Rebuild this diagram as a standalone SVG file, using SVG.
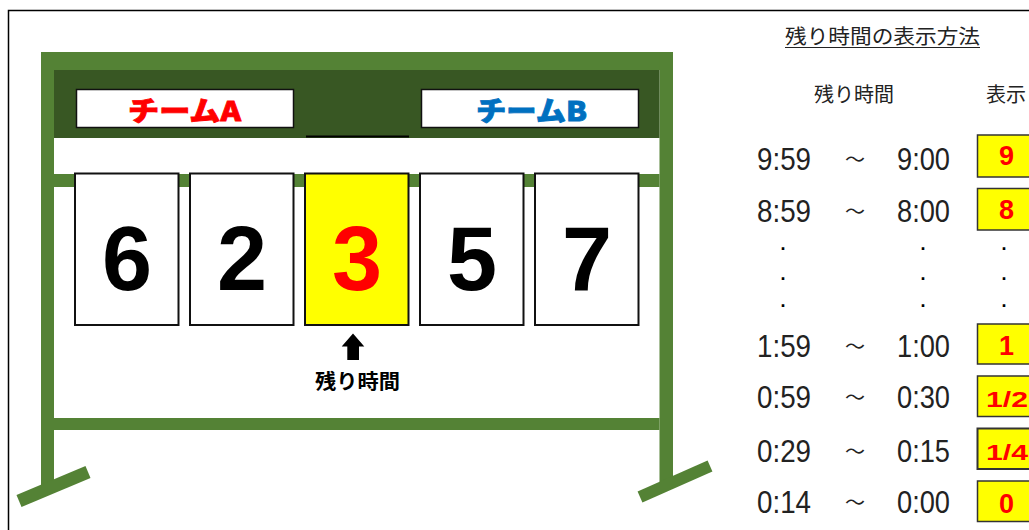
<svg xmlns="http://www.w3.org/2000/svg" width="1029" height="530" viewBox="0 0 1029 530">
<style>
.g{fill:#548235}
.dg{fill:#385723}
.card{fill:#fff;stroke:#111;stroke-width:2}
.big{font-family:"Liberation Sans",Arial,sans-serif;font-weight:bold;font-size:90px;text-anchor:middle;fill:#000}
.jp{font-family:"Noto Sans CJK JP",sans-serif}
.time{font-family:"Liberation Sans",Arial,sans-serif;font-size:32px;fill:#222}
.tilde{font-family:"Noto Sans CJK JP",sans-serif;font-size:20px;fill:#222;text-anchor:middle}
.dot{font-family:"Liberation Sans",Arial,sans-serif;font-weight:bold;font-size:18px;fill:#000;text-anchor:middle}
.ybox{fill:#ffff00;stroke:#333;stroke-width:1.5}
.yt{font-family:"Liberation Sans",Arial,sans-serif;font-weight:bold;font-size:27px;fill:#ff0000;text-anchor:middle}
</style>
<rect width="1029" height="530" fill="#fff"/>
<rect x="8.5" y="10.5" width="1100" height="600" fill="none" stroke="#000" stroke-width="1.5"/>

<g id="frame">
  <rect class="g" x="41" y="52" width="632" height="18"/>
  <rect class="g" x="41" y="52" width="13" height="436"/>
  <rect class="g" x="659.5" y="52" width="13.5" height="432"/>
  <rect class="dg" x="54" y="70" width="605.5" height="68"/>
  <rect class="g" x="54" y="174" width="605.5" height="13"/>
  <rect class="g" x="54" y="418" width="605.5" height="12"/>
  <line x1="19" y1="501" x2="88" y2="472" stroke="#548235" stroke-width="13"/>
  <line x1="640" y1="497" x2="710" y2="466" stroke="#548235" stroke-width="12"/>
  <line x1="306" y1="136.5" x2="409" y2="136.5" stroke="#000" stroke-width="2"/>
</g>

<g id="teamA">
  <rect x="76.5" y="89.5" width="217" height="38" fill="#fff" stroke="#111" stroke-width="1.5"/>
  <text class="jp" x="128" y="121" font-size="27" font-weight="900" fill="#ff0000" stroke="#ff0000" stroke-width="0.8" textLength="113" lengthAdjust="spacingAndGlyphs">チームA</text>
</g>
<g id="teamB">
  <rect x="421.5" y="89.5" width="217" height="38" fill="#fff" stroke="#111" stroke-width="1.5"/>
  <text class="jp" x="476" y="121" font-size="27" font-weight="900" fill="#0070c0" stroke="#0070c0" stroke-width="0.8" textLength="111" lengthAdjust="spacingAndGlyphs">チームB</text>
</g>

<g id="card1"><rect class="card" x="75" y="173.5" width="103.5" height="151.5"/><text class="big" x="127" y="290">6</text></g>
<g id="card2"><rect class="card" x="190" y="173.5" width="103.5" height="151.5"/><text class="big" x="242" y="290">2</text></g>
<g id="card3"><rect class="card" x="305" y="173.5" width="103.5" height="151.5" style="fill:#ffff00"/><text class="big" x="357" y="290" style="fill:#ff0000">3</text></g>
<g id="card4"><rect class="card" x="420" y="173.5" width="103.5" height="151.5"/><text class="big" x="472" y="290">5</text></g>
<g id="card5"><rect class="card" x="535" y="173.5" width="103.5" height="151.5"/><text class="big" x="587" y="290">7</text></g>

<g id="pointer">
  <polygon points="353,333.5 364.3,346.5 359,346.5 359,360 347.3,360 347.3,346.5 341.7,346.5" fill="#000"/>
  <text class="jp" x="315" y="389" font-size="20" font-weight="bold" fill="#000" textLength="85" lengthAdjust="spacingAndGlyphs">残り時間</text>
</g>

<g id="legend">
  <text class="jp" x="785" y="44" font-size="20" fill="#222" textLength="195" lengthAdjust="spacingAndGlyphs">残り時間の表示方法</text>
  <line x1="785" y1="47.5" x2="980" y2="47.5" stroke="#222" stroke-width="1.2"/>
  <text class="jp" x="854" y="101.5" font-size="20" fill="#222" text-anchor="middle">残り時間</text>
  <text class="jp" x="1006" y="101.5" font-size="20" fill="#222" text-anchor="middle">表示</text>

  <text class="time" x="757" y="170" textLength="54" lengthAdjust="spacingAndGlyphs">9:59</text>
  <text class="tilde" x="855" y="167">～</text>
  <text class="time" x="897" y="170" textLength="53" lengthAdjust="spacingAndGlyphs">9:00</text>

  <text class="time" x="757" y="222" textLength="54" lengthAdjust="spacingAndGlyphs">8:59</text>
  <text class="tilde" x="855" y="219">～</text>
  <text class="time" x="897" y="222" textLength="53" lengthAdjust="spacingAndGlyphs">8:00</text>

  <text class="dot" x="783" y="250">.</text><text class="dot" x="923" y="250">.</text><text class="dot" x="1004" y="250">.</text>
  <text class="dot" x="783" y="280">.</text><text class="dot" x="923" y="280">.</text><text class="dot" x="1004" y="280">.</text>
  <text class="dot" x="783" y="307">.</text><text class="dot" x="923" y="307">.</text><text class="dot" x="1004" y="307">.</text>

  <text class="time" x="757" y="357" textLength="54" lengthAdjust="spacingAndGlyphs">1:59</text>
  <text class="tilde" x="855" y="354">～</text>
  <text class="time" x="897" y="357" textLength="53" lengthAdjust="spacingAndGlyphs">1:00</text>

  <text class="time" x="757" y="408" textLength="54" lengthAdjust="spacingAndGlyphs">0:59</text>
  <text class="tilde" x="855" y="405">～</text>
  <text class="time" x="897" y="408" textLength="53" lengthAdjust="spacingAndGlyphs">0:30</text>

  <text class="time" x="757" y="461.5" textLength="54" lengthAdjust="spacingAndGlyphs">0:29</text>
  <text class="tilde" x="855" y="458.5">～</text>
  <text class="time" x="897" y="461.5" textLength="53" lengthAdjust="spacingAndGlyphs">0:15</text>

  <text class="time" x="757" y="513" textLength="54" lengthAdjust="spacingAndGlyphs">0:14</text>
  <text class="tilde" x="855" y="510">～</text>
  <text class="time" x="897" y="513" textLength="53" lengthAdjust="spacingAndGlyphs">0:00</text>
</g>

<g id="displays">
  <rect class="ybox" x="977.5" y="135" width="70" height="42"/><text class="yt" x="1006.5" y="165">9</text>
  <rect class="ybox" x="977.5" y="188.5" width="70" height="41.5"/><text class="yt" x="1006.5" y="218.5">8</text>
  <rect class="ybox" x="977.5" y="324" width="70" height="40"/><text class="yt" x="1006.5" y="355">1</text>
  <rect class="ybox" x="977.5" y="376" width="70" height="40.5"/><text class="yt" x="986" y="407" style="text-anchor:start;font-size:22px" textLength="42" lengthAdjust="spacingAndGlyphs">1/2</text>
  <rect class="ybox" x="977.5" y="428.5" width="70" height="40.5" style="stroke-width:2"/><text class="yt" x="986" y="460" style="text-anchor:start;font-size:22px" textLength="42" lengthAdjust="spacingAndGlyphs">1/4</text>
  <rect class="ybox" x="977.5" y="481" width="70" height="40.5"/><text class="yt" x="1006.5" y="513">0</text>
</g>
</svg>
